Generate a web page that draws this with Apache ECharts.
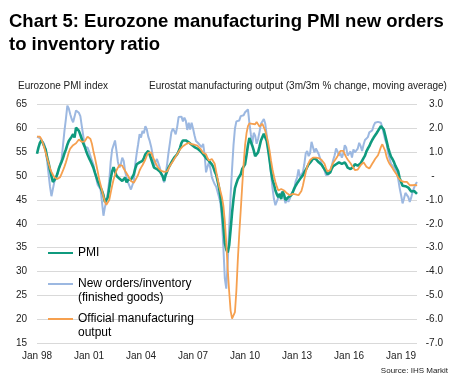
<!DOCTYPE html>
<html>
<head>
<meta charset="utf-8">
<script src="https://cdn.jsdelivr.net/npm/echarts@6/dist/echarts.min.js"></script>
<style>
html,body{margin:0;padding:0;background:#fff;}
#chart{width:466px;height:383px;}
</style>
</head>
<body>
<div id="chart"></div>
<script>
// Monthly observations, Jan 1998 - Dec 2019
const startYear = 1998;
const endYear = 2019;
const tickLabels = ['Jan 98','Jan 01','Jan 04','Jan 07','Jan 10','Jan 13','Jan 16','Jan 19'];

// Eurozone manufacturing PMI (left axis)
const pmi = [
  54.7,56.0,57.0,57.5,57.0,56.3,55.6,54.0,52.8,51.3,50.0,48.8,
  48.6,49.6,50.4,51.5,52.3,53.0,53.8,54.8,55.6,56.6,57.4,57.7,
  58.3,58.8,58.1,60.2,60.3,59.5,58.7,57.8,56.9,56.2,55.3,54.5,
  53.8,53.2,52.5,51.8,50.8,49.9,49.0,48.3,47.6,46.9,46.0,44.6,
  44.3,45.5,47.5,49.5,51.0,51.9,52.1,50.1,49.8,49.5,49.2,49.0,
  49.3,49.7,48.7,49.2,49.4,49.3,49.5,50.4,51.6,52.5,52.7,52.9,
  53.0,53.2,53.8,54.6,55.0,55.3,54.5,53.6,52.7,51.8,51.7,51.5,
  51.3,51.0,50.6,50.0,49.0,50.2,51.0,51.8,52.3,52.9,53.4,53.9,
  54.2,54.6,55.2,56.0,57.0,57.5,57.7,57.5,57.3,57.1,56.9,56.6,
  56.3,56.1,56.0,55.8,55.6,55.3,54.9,54.6,54.2,53.8,53.5,53.2,
  52.9,52.5,51.9,51.0,50.3,49.0,47.5,45.6,43.0,39.5,36.0,34.6,
  34.0,35.5,38.8,42.3,45.2,47.5,48.5,49.4,49.8,50.4,51.5,52.0,
  52.5,54.4,56.5,58.0,57.8,56.4,55.4,54.2,54.1,55.0,56.2,57.5,
  58.2,58.9,59.1,57.4,55.5,53.4,51.0,49.3,48.3,47.0,46.2,45.6,
  46.3,45.2,46.8,46.1,45.0,45.3,45.6,45.8,46.0,46.6,47.4,48.0,
  48.5,48.9,49.4,49.7,50.2,50.8,51.3,51.7,52.5,52.8,53.2,53.7,
  53.9,53.6,53.3,52.9,52.6,52.4,51.9,51.5,51.0,50.4,50.5,50.8,
  51.6,52.1,52.3,52.5,52.7,52.9,52.8,52.6,52.5,52.9,52.4,51.8,
  51.6,51.5,51.7,52.0,52.5,52.3,52.2,52.5,52.7,53.1,53.8,54.3,
  55.2,55.8,56.3,57.0,57.6,58.1,58.5,59.0,59.5,59.8,60.5,60.9,
  59.8,58.6,57.3,56.0,55.0,54.1,53.6,53.0,52.2,51.8,51.0,49.6,
  49.2,48.0,47.6,47.9,47.8,47.6,47.3,46.8,46.6,46.9,46.6,46.3
];

// New orders / inventory (finished goods) ratio, scaled to PMI axis
const newOrdersInv = [
  58.3,58.4,58.0,57.6,57.2,56.7,55.5,53.2,50.5,47.8,45.8,47.3,
  48.8,49.5,50.4,51.3,52.5,53.5,56.5,59.5,62.0,64.8,64.2,63.0,
  62.0,61.3,62.5,63.8,63.4,63.3,62.6,60.5,58.5,56.2,55.8,56.0,
  55.2,54.2,53.3,52.5,51.0,49.5,48.2,47.8,47.2,44.5,41.7,43.5,
  44.8,46.5,49.0,53.0,55.6,55.3,57.5,55.3,53.0,51.8,52.5,53.9,
  53.2,51.0,49.8,48.7,48.3,47.2,47.0,49.0,52.5,54.8,56.7,58.8,
  58.1,59.5,59.0,60.5,59.8,58.3,57.4,56.2,54.6,51.8,53.0,53.6,
  53.9,51.8,50.5,49.7,48.7,50.4,52.4,54.9,57.0,59.2,60.0,59.5,
  58.8,60.3,62.4,62.8,62.5,61.5,62.3,61.6,59.7,61.2,59.8,61.2,
  60.0,58.6,57.4,57.1,56.8,56.4,56.1,56.8,54.5,50.8,52.0,52.9,
  51.6,49.8,49.0,48.3,47.8,47.4,45.6,44.3,41.0,35.0,28.5,26.4,
  32.0,39.0,46.0,51.5,56.5,60.0,61.5,61.8,61.7,62.6,62.3,62.8,
  63.4,63.6,64.0,61.2,58.8,56.9,59.1,58.5,56.8,57.8,59.3,61.0,
  60.8,62.0,61.0,58.5,56.0,53.3,50.5,47.5,45.2,43.9,43.5,45.5,
  46.2,45.8,46.7,45.4,44.3,45.4,44.6,45.3,46.3,46.5,47.2,48.9,
  49.7,51.4,49.8,49.7,50.8,52.5,54.8,55.3,54.2,54.8,57.2,56.8,
  55.0,55.8,56.0,54.6,53.7,52.6,52.7,51.2,50.2,50.1,50.4,51.3,
  52.2,53.4,54.4,55.8,55.2,54.3,54.8,53.9,54.8,56.5,56.0,54.3,
  54.6,55.2,53.9,55.6,55.0,54.6,55.8,57.0,56.3,55.3,56.6,57.6,
  57.2,58.2,59.2,59.0,59.6,60.6,61.2,60.9,61.4,61.5,61.2,60.2,
  58.9,57.6,56.8,54.8,53.7,52.6,52.2,51.9,51.6,50.6,49.4,47.5,
  46.0,44.3,45.3,46.5,46.9,45.6,44.6,45.5,46.8,47.6,48.3,48.8
];

// Eurostat manufacturing output, 3m/3m % change (right axis)
const officialOutput = [
  1.66,1.68,1.66,1.56,1.40,1.20,0.98,0.76,0.54,0.34,0.18,0.06,
  -0.04,-0.08,-0.12,-0.10,-0.04,0.10,0.24,0.40,0.58,0.78,1.00,1.16,
  1.24,1.30,1.32,1.38,1.46,1.54,1.54,1.44,1.40,1.46,1.56,1.66,
  1.66,1.56,1.36,1.06,0.80,0.50,0.20,-0.12,-0.36,-0.60,-0.84,-1.08,
  -1.20,-1.16,-1.00,-0.70,-0.40,-0.14,0.06,0.24,0.36,0.46,0.50,0.44,
  0.32,0.22,0.12,0.02,-0.10,-0.20,-0.26,-0.28,-0.20,-0.06,0.06,0.24,
  0.36,0.46,0.54,0.70,0.86,0.98,1.02,1.00,0.84,0.70,0.56,0.44,
  0.34,0.28,0.22,0.20,0.18,0.16,0.20,0.30,0.44,0.52,0.62,0.72,
  0.82,0.92,1.02,1.12,1.20,1.26,1.32,1.34,1.38,1.40,1.36,1.34,
  1.30,1.32,1.34,1.28,1.20,1.16,1.08,0.98,1.06,0.92,0.76,0.66,
  0.64,0.72,0.70,0.52,0.20,-0.12,-0.40,-0.64,-0.88,-1.24,-1.90,-2.80,
  -3.90,-4.84,-5.64,-5.98,-6.00,-5.70,-4.80,-3.50,-2.40,-1.44,-0.44,0.50,
  1.30,1.80,2.10,2.22,2.24,2.20,2.24,2.18,2.28,2.24,2.08,2.12,
  2.20,2.12,1.90,1.66,1.40,1.06,0.64,0.28,0.00,-0.24,-0.44,-0.60,
  -0.62,-0.54,-0.54,-0.60,-0.66,-0.72,-0.80,-0.80,-0.78,-0.74,-0.74,-0.76,
  -0.80,-0.80,-0.74,-0.62,-0.40,-0.12,0.16,0.40,0.56,0.68,0.74,0.78,
  0.78,0.78,0.78,0.76,0.72,0.68,0.64,0.52,0.34,0.20,0.16,0.26,
  0.44,0.56,0.64,0.74,0.84,0.96,1.06,1.12,1.06,0.92,0.80,0.70,
  0.62,0.54,0.44,0.36,0.26,0.22,0.28,0.36,0.46,0.52,0.58,0.54,
  0.40,0.32,0.32,0.42,0.52,0.62,0.72,0.80,0.88,1.04,1.22,1.34,
  1.28,1.06,0.80,0.64,0.52,0.44,0.34,0.24,0.16,0.06,-0.06,-0.14,
  -0.20,-0.26,-0.24,-0.20,-0.24,-0.30,-0.38,-0.40,-0.38,-0.34,-0.36,-0.40
];

const monthNames = ['Jan','Feb','Mar','Apr','May','Jun','Jul','Aug','Sep','Oct','Nov','Dec'];
const months = [];
for (let y = startYear; y <= endYear; y++) {
  for (let m = 0; m < 12; m++) months.push(monthNames[m] + ' ' + String(y).slice(2));
}

const FONT = 'Liberation Sans, Arial, sans-serif';
const C_PMI = '#0f9a7e';
const C_NO = '#9cb8e1';
const C_OUT = '#f6a04f';
const N_PMI = 'PMI';
const N_NO = 'New orders/inventory\n(finished goods)';
const N_OUT = 'Official manufacturing\noutput';

const legendText = { fontFamily: FONT, fontSize: 12, color: '#000', lineHeight: 14 };
function legend(name, top, multi) {
  return {
    orient: 'vertical', left: 47, top: top, padding: 0,
    itemWidth: 25, itemHeight: 1, selectedMode: false,
    itemStyle: { opacity: 0 },
    data: [name],
    // a leading blank line keeps the first text line level with the line sample
    formatter: multi ? function (n) { return '\n' + n; } : '{name}',
    textStyle: legendText
  };
}

const chart = echarts.init(document.getElementById('chart'), null, { renderer: 'canvas' });
chart.setOption({
  backgroundColor: '#fff',
  animation: false,
  title: [
    { text: 'Chart 5: Eurozone manufacturing PMI new orders\nto inventory ratio', left: 9, top: 10, padding: 0,
      textStyle: { fontFamily: FONT, fontSize: 18.5, fontWeight: 'bold', color: '#000', lineHeight: 23.5 } },
    { text: 'Eurozone PMI index', left: 18, top: 80, padding: 0,
      textStyle: { fontFamily: FONT, fontSize: 10, fontWeight: 'normal', color: '#222', lineHeight: 12 } },
    { text: 'Eurostat manufacturing output (3m/3m % change, moving average)', left: 149, top: 80, padding: 0,
      textStyle: { fontFamily: FONT, fontSize: 10, fontWeight: 'normal', color: '#222', lineHeight: 12 } },
    { text: 'Source: IHS Markit', right: 18, top: 366, padding: 0,
      textStyle: { fontFamily: FONT, fontSize: 8, fontWeight: 'normal', color: '#222', lineHeight: 10 } }
  ],
  legend: [
    legend(N_PMI, 246, false),
    legend(N_NO, 263, true),
    legend(N_OUT, 298, true)
  ],
  grid: { left: 37, right: 49, top: 104.7, bottom: 40, containLabel: false },
  xAxis: {
    type: 'category', data: months, boundaryGap: false,
    axisLine: { show: false }, axisTick: { show: false },
    axisLabel: {
      interval: 35, margin: 8, fontFamily: FONT, fontSize: 10, color: '#222',
      formatter: function (v, i) { return i % 36 === 0 ? tickLabels[i / 36] : ''; }
    },
    splitLine: { show: false }
  },
  yAxis: [
    { type: 'value', min: 15, max: 65, interval: 5, position: 'left',
      axisLine: { show: false }, axisTick: { show: false },
      axisLabel: { margin: 10, fontFamily: FONT, fontSize: 10, color: '#222' },
      splitLine: { lineStyle: { color: '#d9d9d9', width: 1 } } },
    { type: 'value', min: -7, max: 3, interval: 1, position: 'right',
      axisLine: { show: false }, axisTick: { show: false },
      axisLabel: { margin: 26, align: 'right', fontFamily: FONT, fontSize: 10, color: '#222',
        formatter: function (v) { return Math.abs(v) < 1e-9 ? '-   ' : v.toFixed(1); } },
      splitLine: { show: false } }
  ],
  series: [
    { name: N_PMI, type: 'line', yAxisIndex: 0, data: pmi, showSymbol: false, symbol: 'none', z: 3,
      lineStyle: { color: C_PMI, width: 2.6 }, itemStyle: { color: C_PMI } },
    { name: N_NO, type: 'line', yAxisIndex: 0, data: newOrdersInv, showSymbol: false, symbol: 'none', z: 2,
      lineStyle: { color: C_NO, width: 2 }, itemStyle: { color: C_NO } },
    { name: N_OUT, type: 'line', yAxisIndex: 1, data: officialOutput, showSymbol: false, symbol: 'none', z: 4,
      lineStyle: { color: C_OUT, width: 1.8 }, itemStyle: { color: C_OUT } }
  ]
});
</script>
</body>
</html>
